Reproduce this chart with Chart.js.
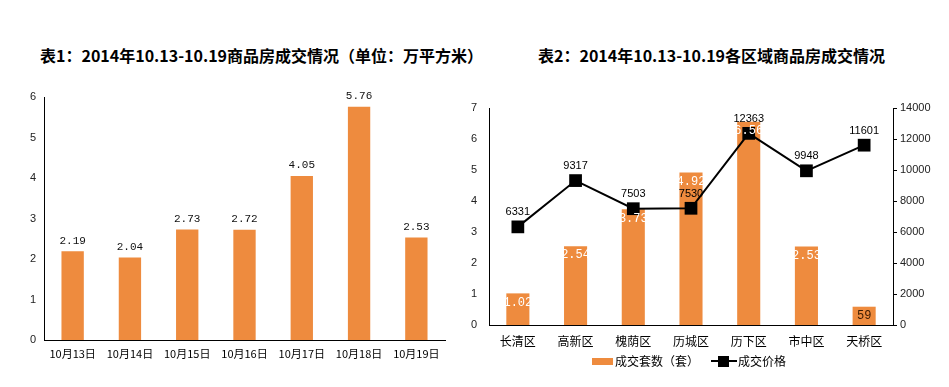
<!DOCTYPE html>
<html>
<head>
<meta charset="utf-8">
<script src="https://cdn.jsdelivr.net/npm/chart.js@4.4.1/dist/chart.umd.min.js"></script>
<style>
  body { margin: 0; background: #fff; width: 949px; height: 387px; position: relative; overflow: hidden; }
  .title { position: absolute; top: 43px; line-height: 16px; font: bold 16px "Noto Sans CJK SC", sans-serif; color: #000; text-align: center; white-space: nowrap; }
  canvas { position: absolute; top: 0; }
  .lg { position: absolute; font: 12px "Noto Sans CJK SC", sans-serif; color: #000; line-height: 14px; top: 354px; white-space: nowrap; }
</style>
</head>
<body>
<div class="title" style="left:40px;width:423px">表1：2014年10.13-10.19商品房成交情况（单位：万平方米）</div>
<div class="title" style="left:538px;width:327px">表2：2014年10.13-10.19各区域商品房成交情况</div>
<canvas id="areaChart" width="460" height="387" style="left:0"></canvas>
<canvas id="districtChart" width="509" height="387" style="left:440px"></canvas>

<!-- legend for chart 2 -->
<div style="position:absolute;left:592px;top:358px;width:21px;height:7px;background:#EE8B3E"></div>
<div class="lg" style="left:615px">成交套数（套）</div>
<div style="position:absolute;left:711px;top:360px;width:26px;height:2px;background:#000"></div>
<div style="position:absolute;left:718px;top:356px;width:11px;height:11px;background:#000"></div>
<div class="lg" style="left:738px">成交价格</div>

<script>
// chart 1 data
const dates = ['10月13日', '10月14日', '10月15日', '10月16日', '10月17日', '10月18日', '10月19日'];
const areaValues = [2.19, 2.04, 2.73, 2.72, 4.05, 5.76, 2.53];

// chart 2 data
const districts = ['长清区', '高新区', '槐荫区', '历城区', '历下区', '市中区', '天桥区'];
const unitCounts = [1.02, 2.54, 3.73, 4.92, 6.56, 2.53, 0.59];
const unitLabels = ['1.02', '2.54', '3.73', '4.92', '6.56', '2.53', '59'];
const prices = [6331, 9317, 7503, 7530, 12363, 9948, 11601];

const orange = '#EE8B3E';
Chart.defaults.font.family = '"Liberation Sans", Arial, sans-serif';
Chart.defaults.color = '#222';
Chart.defaults.animation = false;

// draws value labels on bars / points
const valueLabels = {
  id: 'valueLabels',
  afterDatasetsDraw(chart) {
    const ctx = chart.ctx;
    chart.data.datasets.forEach((ds, i) => {
      const cfg = ds.valueLabel;
      if (!cfg) return;
      const meta = chart.getDatasetMeta(i);
      meta.data.forEach((el, j) => {
        ctx.save();
        ctx.font = cfg.font;
        ctx.fillStyle = Array.isArray(cfg.color) ? cfg.color[j] : cfg.color;
        ctx.textAlign = 'center';
        ctx.textBaseline = cfg.baseline;
        ctx.fillText(cfg.text(j), el.x, el.y + cfg.dy);
        ctx.restore();
      });
    });
  }
};

new Chart(document.getElementById('areaChart'), {
  type: 'bar',
  data: {
    labels: dates,
    datasets: [{
      data: areaValues,
      backgroundColor: orange,
      categoryPercentage: 1,
      barPercentage: 0.39,
      valueLabel: {
        font: '11px "Liberation Mono", monospace',
        color: '#111',
        baseline: 'bottom',
        dy: -5,
        text: j => areaValues[j].toFixed(2)
      }
    }]
  },
  options: {
    responsive: false,
    layout: { padding: { top: 97, right: 15, left: 0, bottom: 0 } },
    plugins: { legend: { display: false }, tooltip: { enabled: false } },
    scales: {
      x: {
        grid: { display: false, drawTicks: false },
        border: { display: true, color: '#000', width: 1 },
        ticks: { padding: 7, color: '#000', font: { size: 11, family: '"Noto Sans CJK SC", sans-serif' } },
        afterFit(s) { s.height = 47; }
      },
      y: {
        min: 0, max: 6,
        grid: { display: false, drawTicks: false },
        border: { display: true, color: '#000', width: 1 },
        ticks: { stepSize: 1, padding: 8, font: { size: 11 } },
        afterFit(s) { s.width = 44; }
      }
    }
  },
  plugins: [valueLabels]
});

new Chart(document.getElementById('districtChart'), {
  type: 'bar',
  data: {
    labels: districts,
    datasets: [{
      type: 'line',
      label: '成交价格',
      data: prices,
      yAxisID: 'y1',
      borderColor: '#000',
      borderWidth: 2,
      backgroundColor: '#000',
      pointStyle: 'rect',
      pointRadius: 9,
      pointBorderWidth: 0,
      order: 0,
      valueLabel: {
        font: '11px "Liberation Sans", Arial, sans-serif',
        color: '#000',
        baseline: 'bottom',
        dy: -9,
        text: j => String(prices[j])
      }
    }, {
      label: '成交套数（套）',
      data: unitCounts,
      yAxisID: 'y',
      backgroundColor: orange,
      categoryPercentage: 1,
      barPercentage: 0.4,
      order: 1,
      valueLabel: {
        font: '12px "Liberation Mono", monospace',
        color: ['#fff', '#fff', '#fff', '#fff', '#fff', '#fff', '#3a1a00'],
        baseline: 'top',
        dy: 3,
        text: j => unitLabels[j]
      }
    }]
  },
  options: {
    responsive: false,
    layout: { padding: { top: 108, right: 0, left: 0, bottom: 0 } },
    plugins: { legend: { display: false }, tooltip: { enabled: false } },
    scales: {
      x: {
        grid: { display: false, drawTicks: false },
        border: { display: true, color: '#000', width: 1 },
        ticks: { padding: 9, color: '#000', font: { size: 12, family: '"Noto Sans CJK SC", sans-serif' } },
        afterFit(s) { s.height = 62; }
      },
      y: {
        position: 'left',
        min: 0, max: 7,
        grid: { display: false, drawTicks: false },
        border: { display: true, color: '#000', width: 1 },
        ticks: { stepSize: 1, padding: 12, font: { size: 11 } },
        afterFit(s) { s.width = 49; }
      },
      y1: {
        position: 'right',
        min: 0, max: 14000,
        grid: { display: true, drawOnChartArea: false, drawTicks: true, tickLength: 4, color: '#000' },
        border: { display: true, color: '#000', width: 1 },
        ticks: { stepSize: 2000, padding: 3, font: { size: 11 }, callback: v => String(v) },
        afterFit(s) { s.width = 56; }
      }
    }
  },
  plugins: [valueLabels]
});
</script>
</body>
</html>
